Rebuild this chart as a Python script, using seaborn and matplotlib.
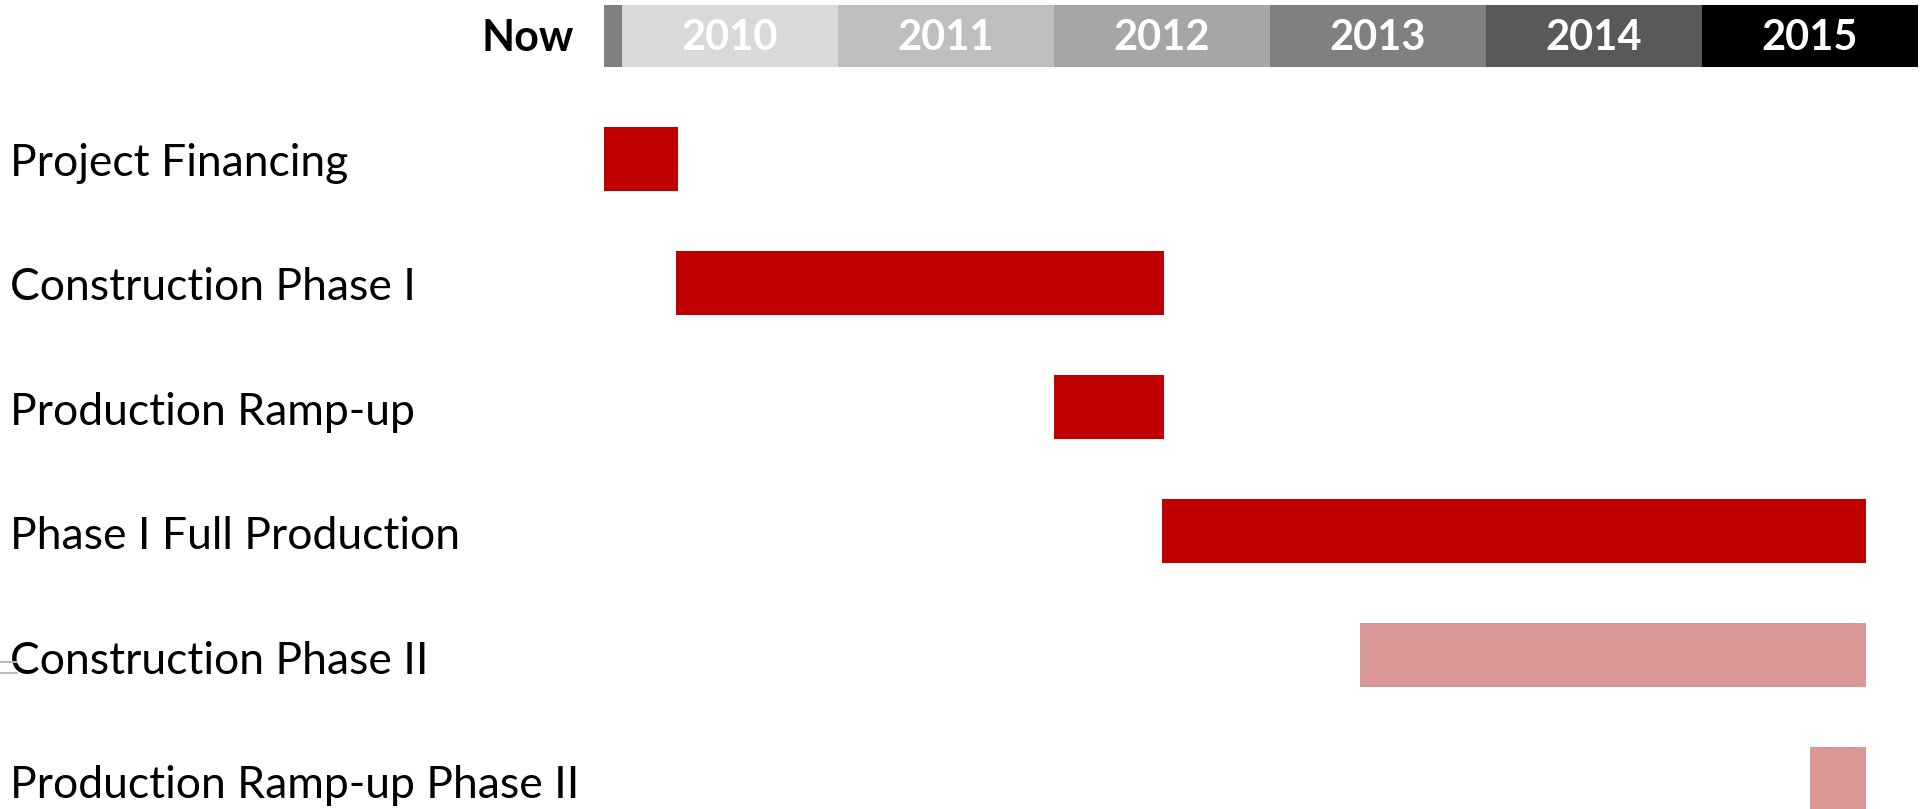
import matplotlib
matplotlib.use("Agg")
import matplotlib.pyplot as plt
import seaborn as sns
import pandas as pd
from matplotlib.lines import Line2D

# ---- data ----
tasks = ["Project Financing", "Construction Phase I", "Production Ramp-up",
         "Phase I Full Production", "Construction Phase II", "Production Ramp-up Phase II"]
starts = [2009.917, 2010.25, 2012.0, 2012.5, 2013.417, 2015.5]
ends = [2010.26, 2012.51, 2012.51, 2015.76, 2015.76, 2015.76]
phase = [1, 1, 1, 1, 2, 2]
years = [2010, 2011, 2012, 2013, 2014, 2015]
year_colors = ["#D9D9D9", "#BFBFBF", "#A6A6A6", "#808080", "#595959", "#000000"]
now = 2009.917
phase_colors = {1: "#C00000", 2: "#D99795"}

df = pd.DataFrame({"task": tasks, "start": starts, "end": ends, "phase": phase})
df["duration"] = df["end"] - df["start"]

sns.set_theme(style="white")
plt.rcParams["font.family"] = ["Lato", "DejaVu Sans"]

W, H = 1929, 809
fig = plt.figure(figsize=(W / 100, H / 100), dpi=100)
ax = fig.add_axes([0, 0, 1, 1])

px_per_year = 216.0
x0_px = 622.0  # pixel of 2010
xmin = 2010 - x0_px / px_per_year
xmax = 2010 + (W - x0_px) / px_per_year
row0_px, pitch = 159.0, 124.0

sns.barplot(data=df, y="task", x="duration", orient="h", left=df["start"],
            color=phase_colors[1], width=64 / pitch, errorbar=None,
            linewidth=0, ax=ax)
for patch, p in zip(ax.patches, df["phase"]):
    patch.set_facecolor(phase_colors[p])
    patch.set_edgecolor("none")

# header timeline
hy = (35.75 - row0_px) / pitch
hh = 61.5 / pitch
ax.barh([hy] * len(years), [1] * len(years), left=years, height=hh,
        color=year_colors, linewidth=0)
ax.barh([hy], [2010 - now], left=[now], height=hh, color="#808080", linewidth=0)
for yr in years:
    ax.text(yr + 0.5, hy + 0.02, str(yr), color="white", fontsize=30,
            fontweight="bold", ha="center", va="center")
ax.text(now - 30 / px_per_year, hy + 0.02, "Now", color="black", fontsize=31,
        fontweight="bold", ha="right", va="center")

# task labels
for i, t in enumerate(tasks):
    ax.text(xmin + 10 / px_per_year, i + 0.135 + 0.004 * i, t, fontsize=32,
            color="black", ha="left", va="baseline")

ax.set_xlim(xmin, xmax)
ax.set_ylim((H - row0_px) / pitch, -row0_px / pitch)
ax.set_axis_off()

# small artifact lines at left edge
for yy in (662, 673):
    fig.add_artist(Line2D([0, 17 / W], [1 - yy / H, 1 - yy / H],
                          color="#BBBBBB", linewidth=1.5))

fig.savefig("out.png", dpi=100)
